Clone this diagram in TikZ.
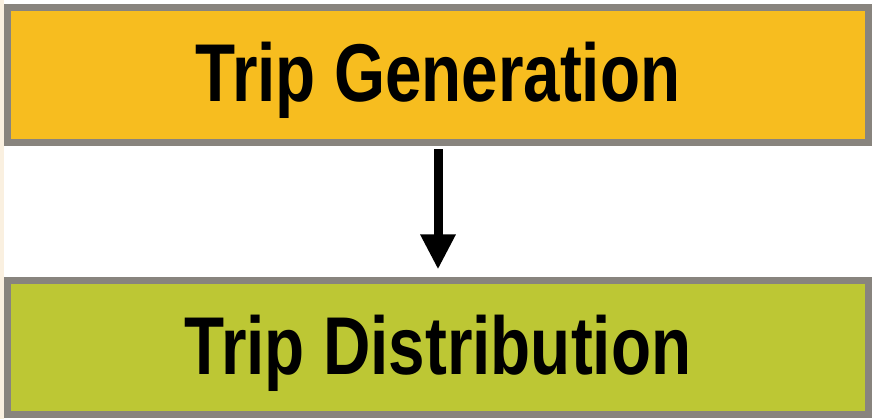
\documentclass[tikz,border=0pt]{standalone}
\usepackage{fontspec}
\setmainfont{Liberation Sans}
\usepackage{tikz}
\usetikzlibrary{positioning, arrows.meta}

\definecolor{genorange}{RGB}{247,189,31}
\definecolor{distgreen}{RGB}{189,199,52}
\definecolor{boxgray}{RGB}{136,132,126}
\definecolor{leftbeige}{RGB}{250,240,224}

\newcommand{\narrow}[1]{\scalebox{0.8}[1]{#1}}

\begin{document}
\begin{tikzpicture}
	[x=1pt, y=1pt, on grid, node distance=272.5pt,
	 stagebox/.style={draw=boxgray, line width=7pt, minimum width=861pt,
	   inner sep=0pt, text height=59pt, text depth=5pt,
	   font=\fontsize{82}{90}\selectfont\bfseries}]
   \useasboundingbox (0,0) rectangle (880,-419);
   \fill[white] (0,0) rectangle (880,-419);
   \fill[leftbeige] (0,0) rectangle (4,-419);

   \node[stagebox, fill=genorange, minimum height=135pt] (gen) at (438,-75) {\narrow{Trip Generation}};
   \node[stagebox, fill=distgreen, minimum height=134pt] (dist) [below=of gen] {\narrow{Trip Distribution}};

    \draw[line width=9pt, -{Triangle[width=33pt, length=35pt]}, shorten <=3.5pt, shorten >=7.5pt]
    (gen.south) -- (dist.north);
\end{tikzpicture}
\end{document}
